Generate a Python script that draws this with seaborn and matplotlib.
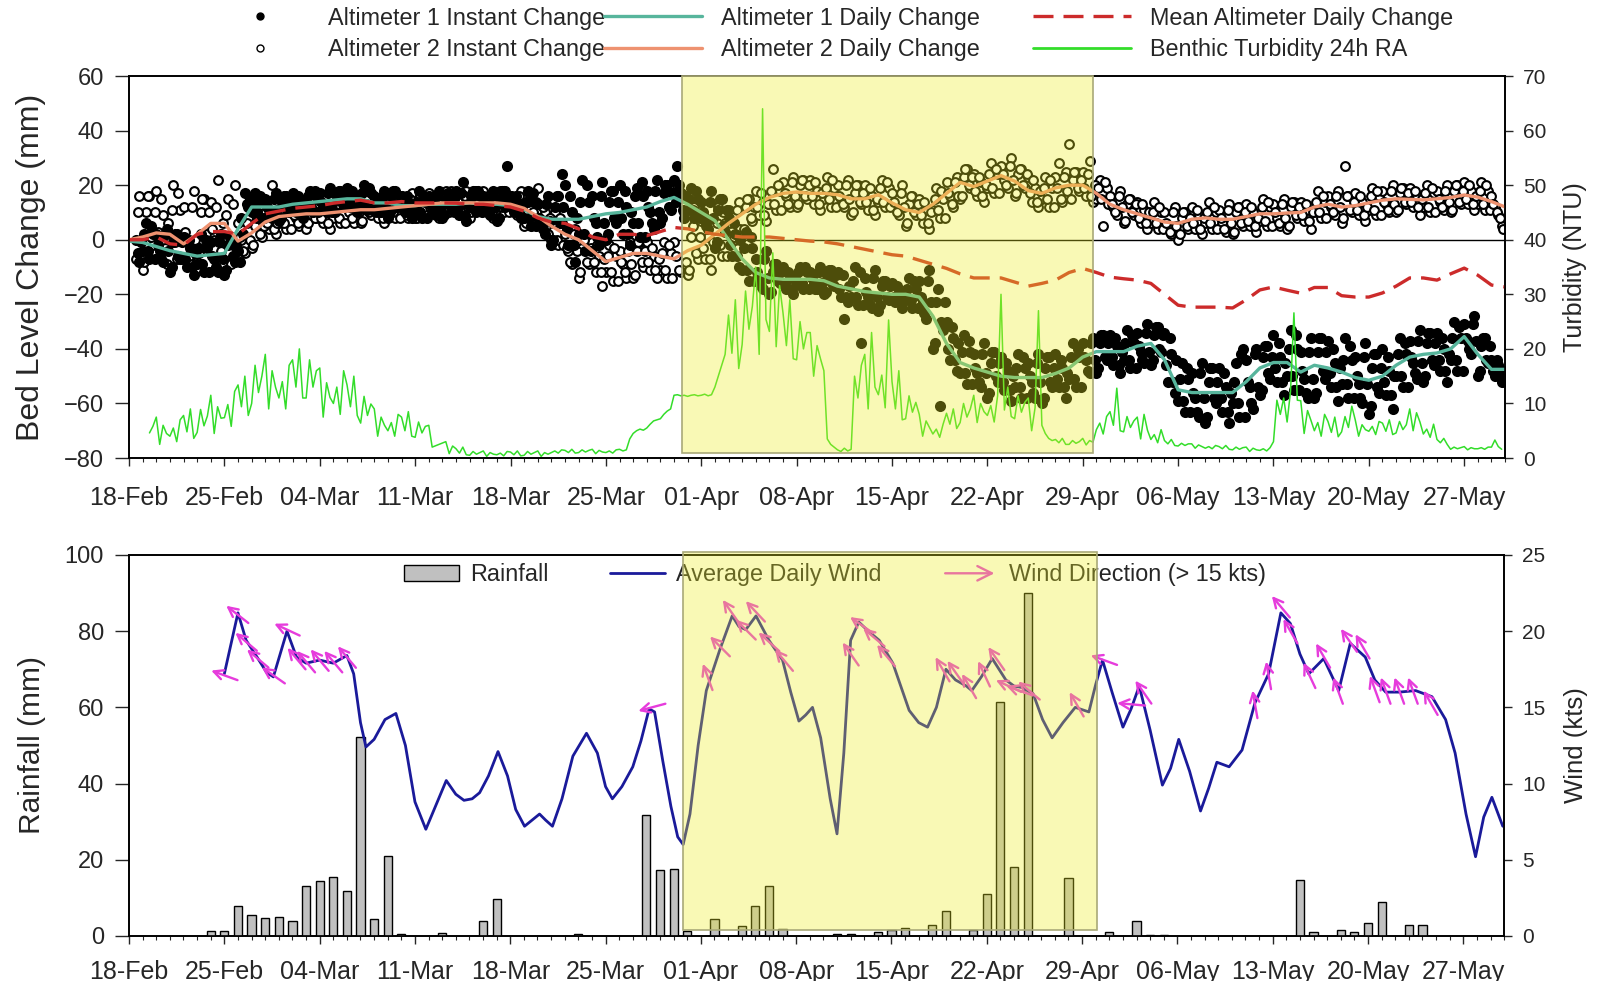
import numpy as np
import matplotlib
matplotlib.use("Agg")
import matplotlib.pyplot as plt
import matplotlib.dates as mdates
import matplotlib.ticker as mticker
import matplotlib.transforms as mtransforms
from matplotlib.patches import Rectangle, FancyArrowPatch, Patch
from matplotlib.lines import Line2D
from matplotlib.legend_handler import HandlerBase
import seaborn as sns
import datetime as dt

nan = np.nan

# ---------------- data (days counted from 18-Feb) ----------------
# daily change lines, one value per day
alt1_daily = [-0.5, -1, -2.5, -4, -5, -6, -5.5, -5, 4, 12,
              12, 12, 13, 13.5, 14, 14.5, 15, 15, 13.5, 13.5,
              12.5, 12.5, 13, 13, 13, 13.5, 13, 13, 12.5, 11,
              8.5, 7.5, 7.5, 7.5, 8.5, 9.5, 10, 11, 12, 14,
              15.5, 13, 10, 7, 0, -7, -12, -14, -14.5, -14.5,
              -14.5, -15, -17, -18, -19, -19.5, -20, -20, -21, -28,
              -38, -45, -47, -48.5, -50, -50.5, -50.5, -50.5, -49, -47,
              -43, -41, -41, -41, -39, -38, -44, -55, -56, -56,
              -56, -56, -52, -47, -45, -45, -48.5, -46, -47, -48.5,
              -50.5, -51.5, -50, -46, -43, -42, -41.5, -40, -35.5, -42,
              -47.5, -47.5]
alt2_daily = [0, 1, 2.5, 2, -1.5, 2, 6, 6, -0.5, 2.5,
              6.5, 8.5, 9, 9.5, 9.5, 10, 10.5, 11, 11, 11.5,
              12, 12.5, 13, 13.5, 13.5, 13.5, 13.5, 13.5, 13, 11.5,
              8.5, 5, 2, 0, -4, -8, -6.5, -5, -5, -6,
              -7, -4, -2, 2, 6, 9.5, 13, 15.5, 17, 17.5,
              17, 17, 16.5, 15, 15, 16.5, 13.5, 11, 10, 13,
              17, 21, 19.5, 21.5, 23.5, 21.5, 18, 17, 19, 20,
              20, 17, 13, 11, 9.5, 8, 6.5, 6, 7.5, 8,
              7.5, 7.5, 8.5, 9.5, 9.5, 9.8, 10, 12, 13, 12,
              12.5, 13.5, 14.5, 15, 14.8, 14.6, 15, 15.5, 16.4, 15.6,
              14, 12]
mean_daily = [0, 0, 1, -1.5, -2, 2, 3, 3, 2, 6,
              9.5, 10.5, 11.5, 12, 12.5, 13.4, 14, 14.5, 13.5, 13.5,
              14, 13.5, 13.5, 13.5, 13.4, 13, 13, 12.5, 12, 10.5,
              8, 6.5, 6, 4, 1, 0, 2, 2, 1.5, 3,
              4.5, 4, 3, 2, 1.5, 1, 1, 1, 0.5, 0,
              -0.5, -0.8, -1.5, -2.5, -3.5, -4.5, -5.5, -6, -7.5, -9,
              -10.5, -12.5, -14, -14, -14, -15.5, -17, -16, -14.8, -12,
              -10.5, -12, -13.7, -14.3, -14.8, -16, -20, -24, -24.7, -24.7,
              -24.7, -25, -22, -18.4, -17.3, -18.5, -19.6, -17.5, -17.5, -20.5,
              -21, -21, -19.5, -17, -14, -14, -14.8, -12.5, -10.4, -13,
              -16.6, -17.3]

# instant readings, every 6 h from 18-Feb 12:00 (a) and from 18-Feb 15:00 (b)
alt1_inst_a = [0, -8,
               -4, 6, -7, 2, 2, -4, -8, 4, -12, -1, 2, -7, 1, -10, -3, -13,
               -9, 2, -12, -3, -1, -7, -12, 2, -13, -2, 1, -8, -4, 8, 17, 12,
               10, 17, 8, 14, 15, 11, 8, 17, 7, 14, 16, 10, 17, 10, 14, 8,
               12, 18, 10, 16, 17, 13, 10, 19, 10, 16, 18, 12, 19, 12, 16, 10,
               13, 20, 11, 17, 16, 12, 10, 18, 8, 16, 18, 12, 16, 10, 14, 8,
               10, 18, 8, 14, 16, 12, 9, 18, 8, 15, 17, 11, 18, 9, 21, 7,
               12, 18, 10, 16, 16, 12, 9, 18, 7, 15, 18, 27, 16, 10, 14, 8,
               8, 18, 5, 14, 13, 7, 2, 16, -2, 12, 16, 24, 20, -2, 10, -8,
               2, 22, -4, 14, 16, 6, -2, 21, 0, 14, 18, 6, 20, 2, 12, -2,
               6, 19, 1, 16, 18, 10, 4, 22, 6, 17, 20, 11, 22, 27, 17, 8,
               11, 19, 8, 15, 14, 8, 4, 18, -3, 11, 15, 3, 8, -6, 2, -10,
               -11, 3, -15, -3, -7, -14, -18, -4, -20, -12, -9, -16, -10, -18, -14, -20,
               -16, -10, -18, -12, -12, -16, -18, -10, -20, -13, -11, -17, -12, -21, -29, -23,
               -21, -10, -24, -38, -14, -21, -25, -11, -26, -17, -15, -22, -16, -23, -19, -25,
               -22, -14, -25, -18, -15, -23, -29, -11, -40, -23, -61, -33, -30, -44, -36, -48,
               -49, -35, -53, -41, -42, -49, -54, -38, -58, -45, -41, -52, -43, -55, -48, -59,
               -54, -42, -58, -47, -45, -52, -58, -42, -60, -47, -43, -54, -42, -54, -47, -58,
               -51, -38, -54, -43, -38, -44, -49, -36, -49, -38, -35, -44, -35, -46, -39, -49,
               -44, -33, -47, -38, -34, -41, -45, -31, -46, -35, -32, -41, -34, -52, -42, -56,
               -59, -45, -63, -51, -49, -58, -65, -45, -67, -52, -47, -60, -47, -63, -54, -67,
               -60, -45, -65, -40, -44, -54, -62, -40, -57, -43, -39, -51, -35, -52, -43, -57,
               -50, -33, -55, -40, -41, -51, -58, -36, -58, -41, -36, -51, -37, -54, -45, -59,
               -53, -36, -58, -44, -43, -53, -60, -38, -64, -47, -42, -56, -40, -57, -48, -62,
               -50, -36, -54, -42, -37, -45, -51, -33, -52, -38, -34, -46, -34, -48, -40, -52,
               -44, -30, -48, -36, -31, -37, -42, -28, -50, -39, -36, -45, -44, -50, -46, -52]
alt1_inst_b = [-5, -1,
               2, -4, 5, -7, -2, -7, 2, -4, -10, 2, -6, -1, -7, 0, -10, -5,
               -3, -9, 0, -12, -6, -10, -1, -7, -11, 1, -6, -2, -8, 2, 13, 15,
               14, 10, 16, 8, 12, 9, 15, 11, 8, 16, 11, 14, 12, 16, 10, 13,
               16, 12, 18, 10, 14, 11, 17, 13, 10, 18, 14, 16, 14, 18, 12, 15,
               17, 13, 19, 11, 14, 10, 16, 12, 10, 18, 12, 16, 12, 16, 10, 12,
               14, 10, 16, 8, 13, 10, 16, 12, 9, 17, 12, 15, 12, 17, 9, 13,
               16, 12, 18, 10, 13, 10, 16, 12, 8, 18, 12, 15, 12, 16, 10, 12,
               14, 8, 17, 5, 8, 4, 13, 7, 0, 16, 6, 12, 4, 16, -2, 8,
               14, 2, 20, -4, 8, 1, 16, 6, 2, 18, 8, 14, 8, 18, 2, 10,
               16, 6, 21, 1, 12, 6, 18, 10, 8, 20, 12, 17, 14, 20, 11, 16,
               15, 11, 18, 8, 10, 6, 14, 8, -1, 15, 5, 11, -2, 6, -6, 0,
               -3, -11, 1, -15, -12, -17, -7, -14, -19, -9, -15, -12, -16, -12, -18, -14,
               -12, -16, -10, -18, -14, -18, -12, -16, -19, -11, -16, -13, -18, -13, -21, -17,
               -15, -21, -12, -24, -19, -24, -14, -21, -24, -15, -21, -17, -21, -17, -23, -20,
               -18, -22, -15, -25, -21, -27, -15, -23, -38, -18, -30, -23, -40, -32, -44, -38,
               -41, -49, -37, -53, -47, -52, -42, -49, -56, -41, -50, -45, -52, -45, -55, -50,
               -47, -54, -43, -58, -50, -56, -45, -52, -58, -43, -52, -47, -51, -44, -54, -49,
               -43, -51, -40, -54, -43, -48, -38, -44, -47, -35, -43, -38, -43, -36, -46, -41,
               -38, -44, -35, -47, -39, -44, -34, -41, -44, -32, -40, -35, -46, -36, -52, -44,
               -51, -59, -47, -63, -56, -63, -49, -58, -65, -47, -58, -52, -58, -49, -63, -56,
               -52, -60, -42, -65, -52, -60, -42, -54, -55, -39, -49, -43, -47, -38, -52, -45,
               -40, -50, -35, -55, -48, -56, -41, -51, -56, -36, -48, -41, -49, -40, -54, -47,
               -44, -53, -39, -58, -50, -58, -43, -53, -61, -42, -54, -47, -52, -43, -57, -50,
               -42, -50, -38, -54, -43, -49, -37, -45, -50, -34, -44, -38, -44, -36, -48, -42,
               -36, -44, -32, -48, -36, -40, -31, -37, -48, -36, -44, -39, -48, -44, -50, -48]
alt2_inst_a = [-7, 16,
               -11, 10, 16, -2, 18, -3, 9, -9, -1, 20, -7, 11, 12, 0, -9, 18,
               -8, 10, 15, 0, 14, 0, 22, -4, 1, 15, -9, 20, 6, 0, -5, 8,
               -3, 5, 8, 1, 10, 4, 20, 2, 6, 14, 4, 10, 12, 8, 5, 14,
               4, 12, 14, 8, 14, 6, 10, 4, 8, 15, 6, 12, 14, 10, 6, 16,
               6, 13, 15, 9, 15, 8, 12, 6, 10, 16, 8, 14, 15, 11, 8, 17,
               8, 14, 16, 10, 17, 10, 14, 8, 12, 18, 10, 16, 16, 12, 10, 18,
               8, 16, 18, 12, 18, 10, 14, 8, 12, 18, 10, 16, 16, 12, 9, 18,
               5, 14, 17, 9, 19, 5, 10, 2, 0, 10, -2, 6, 2, -4, -9, 4,
               -14, -3, 0, -9, -1, -12, -6, -17, -12, -2, -15, -6, -4, -9, -14, -1,
               -14, -4, -1, -10, -1, -11, -6, -14, -11, -1, -14, -5, -1, 20, -12, 10,
               -13, 1, 12, -7, 7, -7, 1, -11, -2, 12, -6, 6, 11, 4, 0, 14,
               2, 12, 15, 7, 18, 9, 14, 7, 13, 26, 11, 18, 21, 16, 12, 23,
               12, 20, 22, 15, 22, 13, 18, 11, 15, 23, 12, 19, 20, 15, 12, 22,
               9, 17, 20, 13, 20, 11, 16, 9, 14, 22, 12, 19, 17, 12, 9, 20,
               5, 13, 16, 9, 15, 6, 11, 4, 11, 19, 8, 15, 21, 16, 12, 23,
               15, 23, 26, 19, 24, 16, 21, 14, 19, 28, 17, 24, 27, 22, 19, 30,
               16, 24, 26, 19, 23, 14, 19, 12, 15, 23, 12, 19, 23, 28, 14, 25,
               35, 22, 25, 18, 25, 16, 29, 14, 15, 22, 5, 19, 16, 12, 9, 18,
               6, 13, 15, 9, 14, 6, 11, 4, 6, 14, 4, 10, 10, 5, 2, 12,
               0, 8, 10, 4, 12, 4, 9, 2, 6, 14, 4, 10, 11, 6, 3, 13,
               2, 10, 12, 5, 13, 5, 10, 3, 7, 15, 5, 12, 13, 8, 5, 15,
               4, 12, 14, 8, 14, 7, 11, 4, 10, 18, 8, 14, 16, 12, 9, 18,
               6, 27, 16, 10, 17, 9, 14, 7, 11, 19, 9, 16, 18, 13, 10, 20,
               10, 17, 19, 13, 19, 12, 16, 9, 12, 20, 10, 17, 18, 14, 11, 20,
               10, 18, 20, 13, 21, 13, 18, 11, 13, 21, 11, 18, 16, 12, 9, 5]
alt2_inst_b = [10, 0,
               -8, 16, 1, 10, 3, 15, -3, 6, 11, -1, 17, -7, 3, -6, 12, 0,
               -5, 15, 2, 10, 4, 12, 0, 6, 9, 1, 13, -3, 1, -4, 6, 0,
               -2, 8, 2, 5, 6, 10, 4, 6, 10, 6, 12, 4, 9, 6, 12, 8,
               6, 14, 8, 12, 8, 12, 6, 10, 12, 8, 14, 6, 10, 8, 14, 10,
               7, 15, 10, 13, 10, 14, 8, 11, 14, 10, 16, 8, 12, 9, 15, 11,
               8, 16, 12, 14, 12, 16, 10, 13, 16, 12, 18, 10, 14, 10, 16, 12,
               10, 18, 12, 16, 12, 16, 10, 14, 16, 12, 18, 10, 13, 10, 16, 12,
               6, 17, 10, 14, 7, 12, 5, 8, 6, 0, 8, -2, -3, -8, 2, -4,
               -12, 0, -8, -3, -8, -2, -12, -7, -6, -12, -3, -15, -8, -12, -4, -9,
               -13, -1, -8, -4, -8, -3, -11, -7, -5, -11, -2, -14, -6, -11, 16, -8,
               -11, 5, -5, 1, -3, 5, -7, -1, 6, -2, 10, -6, 6, 1, 11, 4,
               4, 15, 8, 12, 12, 17, 9, 13, 18, 13, 20, 11, 17, 13, 21, 16,
               13, 22, 16, 20, 16, 21, 13, 17, 19, 15, 22, 12, 16, 13, 20, 15,
               10, 20, 14, 17, 14, 19, 11, 15, 19, 14, 21, 12, 14, 10, 17, 12,
               6, 16, 10, 13, 9, 14, 6, 10, 15, 11, 18, 8, 17, 13, 21, 16,
               16, 26, 20, 23, 18, 23, 16, 20, 24, 19, 26, 17, 24, 20, 27, 22,
               17, 26, 20, 24, 17, 22, 14, 18, 19, 15, 22, 12, 19, 15, 23, 18,
               15, 25, 19, 22, 19, 24, 16, 20, 19, 15, 21, 13, 13, 10, 16, 12,
               7, 15, 10, 13, 8, 13, 6, 10, 10, 6, 12, 4, 6, 3, 10, 5,
               2, 10, 5, 8, 6, 11, 4, 8, 10, 6, 12, 4, 8, 4, 11, 6,
               3, 12, 6, 10, 7, 12, 5, 8, 12, 7, 14, 5, 10, 6, 13, 8,
               5, 14, 9, 12, 9, 13, 7, 10, 14, 10, 16, 8, 13, 10, 16, 12,
               8, 16, 11, 14, 11, 16, 9, 12, 16, 11, 18, 9, 14, 11, 18, 13,
               11, 19, 14, 17, 14, 18, 12, 15, 17, 12, 19, 10, 15, 12, 18, 14,
               11, 20, 14, 18, 15, 20, 13, 16, 18, 13, 20, 11, 13, 10, 8, 4]

# benthic turbidity 24h RA (NTU), every 6 h from 19-Feb 12:00
turbidity = [4.6, 5.8,
             7.5, 2.5, 6, 4.5, 4, 5.5, 3, 7, 7.8, 4.8, 9, 3.6, 4.7, 8.9, 5.9, 7.7,
             11.5, 4.5, 9.4, 7.3, 7.4, 9.8, 5.8, 12.2, 13.4, 9.4, 15, 7.8, 10, 17, 12, 15,
             19, 9, 16, 13, 11, 14, 9, 17, 18, 13, 20, 11, 11, 18, 13, 16,
             16.5, 7.5, 13.8, 11.1, 10, 13, 8, 16, 13.4, 9.4, 15, 7.8, 6.4, 11.3, 7.8, 9.9,
             9, 4, 7.5, 6, 5, 6.5, 4, 8, 7.5, 5, 8.5, 4, 3.8, 6.6, 4.6, 5.8,
             6, 2, nan, nan, nan, 3.0, 0.8, 2.2, 1.7, 0.9, 2.0, 0.6, 0.5, 1.2, 0.7, 1.0,
             1.3, 0.3, 1.0, 0.7, 0.6, 0.9, 0.4, 1.2, 1.1, 0.6, 1.3, 0.4, 0.5, 1.2, 0.7, 1.0,
             1.3, 0.3, 1.0, 0.7, 1.0, 1.3, 0.9, 1.5, 1.4, 1.0, 1.6, 0.9, 1.0, 1.5, 1.1, 1.4,
             1.6, 0.8, 1.4, 1.1, 1.0, 1.3, 0.9, 1.5, 1.6, 1.3, 1.5, 3.5, 4.5, 5.0, 5.3, 5.1,
             5.5, 6.2, 6.8, 7.0, 7.2, 8.0, 8.6, 9.0, 11.5, 11.6, 11.4, 11.5, 11.3, 11.5, 11.6, 11.4,
             11.5, 11.7, 11.4, 11.6, 13, 15, 17, 19, 26.2, 19.2, 29, 16.4, 20.8, 30.6, 23.6, 27.8,
             35, 19, 64, 25.4, 23.2, 37.6, 20.4, 31.6, 26.6, 20.6, 29, 18.2, 18, 25, 20, 23,
             23, 15, 20.6, 18.2, 16, 3.5, 2.5, 2.0, 1.5, 1.2, 1.8, 1.3, 1.6, 15, 11, 17,
             19, 9, 23, 13, 11.6, 15.2, 9.2, 25.3, 14, 9, 16, 7, 7.2, 11.4, 8.4, 10.2,
             8, 4, 6.8, 5.6, 4.4, 5.3, 3.8, 6.2, 8.2, 6.2, 9, 5.4, 6.5, 10, 7.5, 9,
             11.5, 6.5, 10, 8.5, 7.8, 9.6, 6.6, 11.4, 30, 8.8, 13, 7.6, 7.2, 11.4, 8.4, 10.2,
             11, 5, 9.2, 27, 6, 4.5, 3.6, 3.2, 3.4, 2.8, 3.6, 2.5, 2.5, 3.2, 2.7, 3.0,
             3.6, 2.4, 3.2, 2.9, 5.2, 6.4, 4.4, 7.6, 8.5, 6, 12.8, 5, 4.8, 7.6, 5.6, 6.8,
             7.5, 3.5, 8, 5.1, 3.4, 4.3, 2.8, 5.2, 3.2, 2.6, 3.4, 2.3, 2.2, 2.7, 2.3, 2.6,
             2.6, 1.8, 2.4, 2.1, 1.8, 2.1, 1.7, 2.3, 2.1, 1.7, 2.3, 1.6, 1.5, 2.0, 1.6, 1.9,
             2.0, 1.2, 1.8, 1.5, 1.4, 1.7, 1.3, 1.9, 3, 10.6, 8, 11, 6.6, 12.2, 26.6, 10.6,
             10.5, 4.5, 8.7, 6.9, 5, 6.5, 4, 8, 6.7, 4.7, 7.5, 3.9, 4.8, 7.6, 5.6, 9.5,
             7, 4, 6.1, 5.2, 4.9, 5.8, 4.3, 6.7, 6.4, 4.9, 7, 4.3, 4.6, 6.7, 5.2, 6.1,
             9, 5, 8.3, 6.6, 4.4, 5.3, 3.8, 6.2, 3.4, 2.8, 3.6, 2.5, 1.6, 2.0, 1.7, 1.9,
             2.1, 1.5, 1.9, 1.7, 1.7, 1.9, 1.6, 2.0, 2.0, 3.3, 2.1, 1.6]

# daily rainfall
rain_day = [6, 7, 8, 9, 10, 11, 12, 13, 14, 15, 16, 17, 18, 19, 20, 23, 26, 27, 33,
            38, 39, 40, 41, 43, 45, 46, 47, 48, 52, 53, 55, 56, 57, 59, 60, 62, 63,
            64, 65, 66, 69, 72, 74, 75, 76, 86, 87, 89, 90, 91, 92, 94, 95]
rain_mm = [1.4, 1.4, 7.9, 5.5, 4.8, 5.0, 3.9, 13.1, 14.4, 15.6, 11.9, 52.1, 4.4, 21.1, 0.4, 0.8, 3.9, 9.7, 0.5,
           31.7, 17.3, 17.7, 1.4, 4.4, 2.6, 7.9, 13.1, 1.7, 0.4, 0.5, 1.0, 1.6, 2.0, 2.9, 6.6, 1.6, 10.9,
           61.3, 18.0, 89.9, 15.1, 1.1, 3.9, 0.3, 0.3, 14.7, 1.1, 1.6, 1.1, 3.5, 8.8, 2.8, 2.8]

# average daily wind
wind_day = [7.0, 8.0, 8.6, 9.4, 10.1, 10.6, 11.6, 12.3, 13.0, 14.0,
            15.0, 16.0, 16.5, 17.0, 17.4, 18.0, 18.8, 19.6, 20.3, 21.0,
            21.8, 22.5, 23.3, 24.0, 24.6, 25.2, 25.75, 26.4, 27.1, 27.8,
            28.4, 29.05, 29.6, 30.15, 30.6, 31.1, 31.8, 32.6, 33.6, 34.4,
            35.0, 35.5, 36.2, 37.0, 37.6, 38.2, 38.6, 39.2, 39.8, 40.3,
            40.7, 41.2, 41.8, 42.4, 43.4, 44.3, 44.8, 45.3, 46.05, 47.0,
            48.0, 48.6, 49.2, 49.7, 50.2, 50.8, 51.5, 52.0, 52.5, 53.0,
            53.6, 54.3, 55.1, 56.1, 57.3, 58.0, 58.65, 59.3, 60.0, 60.7,
            61.5, 61.9, 62.6, 63.4, 64.4, 65.0, 65.6, 66.4, 67.1, 67.8,
            68.6, 69.5, 70.5, 71.0, 71.5, 72.2, 73.0, 73.6, 74.2, 75.0,
            75.9, 76.5, 77.1, 77.9, 78.7, 79.3, 79.9, 80.8, 81.75, 82.7,
            83.7, 84.6, 85.3, 86.0, 86.65, 87.75, 88.85, 89.7, 90.8, 91.5,
            92.3, 93.3, 94.5, 95.7, 96.7, 97.4, 98.2, 98.9, 99.5, 100.1, 100.9]
wind_kts = [17.2, 21.2, 19.4, 18.3, 17.3, 17.0, 20.0, 18.3, 17.9, 18.1,
            17.9, 18.4, 17.2, 14.0, 12.4, 12.9, 14.2, 14.6, 12.5, 8.8,
            7.0, 8.5, 10.2, 9.3, 8.9, 9.0, 9.4, 10.5, 12.1, 10.5,
            8.3, 7.2, 7.6, 8.0, 7.6, 7.2, 9.0, 11.8, 13.3, 12.0,
            9.8, 9.0, 9.8, 11.1, 12.8, 14.9, 14.7, 11.5, 8.5, 6.5,
            6.0, 8.0, 12.5, 16.1, 18.8, 21.0, 20.3, 20.1, 21.0, 19.4,
            18.1, 16.0, 14.1, 14.5, 15.0, 13.0, 9.0, 6.7, 12.0, 19.4,
            20.6, 20.0, 19.4, 17.9, 14.8, 14.0, 13.7, 15.0, 17.5, 16.8,
            16.4, 16.1, 17.0, 18.2, 16.8, 16.4, 16.3, 15.9, 14.2, 13.0,
            14.0, 15.0, 14.7, 16.5, 18.1, 16.0, 13.7, 14.9, 16.4, 13.5,
            9.9, 11.0, 12.9, 10.8, 8.2, 9.7, 11.4, 11.1, 12.2, 15.3,
            17.2, 21.2, 20.5, 18.5, 17.2, 18.2, 16.1, 19.2, 18.3, 16.8,
            16.0, 16.0, 16.1, 15.7, 14.2, 12.0, 8.0, 5.2, 7.8, 9.1, 7.2]

# wind direction arrows (> 15 kts); direction in degrees the arrow points to
arrow_day = [7.0, 7.95, 8.6, 9.45, 10.6, 11.6, 12.3, 13.0, 14.0, 15.0, 16.0,
             38.4, 42.5, 43.4, 44.2, 45.3, 46.0, 47.0, 48.1,
             53.0, 53.8, 54.7, 55.6, 59.75, 60.7, 61.7, 62.8, 63.7, 64.6, 65.4, 66.1,
             69.6, 71.6, 73.6, 74.5,
             82.7, 83.7, 84.6, 85.3, 86.7, 87.7, 88.8, 89.6, 90.6, 91.5, 92.3, 93.3, 94.3, 95.6]
arrow_kts = [17.1, 21.1, 19.3, 18.2, 17.1, 20.1, 18.2, 18.0, 18.1, 18.0, 18.3,
             15.0, 17.0, 19.0, 21.3, 20.1, 21.3, 19.3, 18.1,
             18.5, 20.4, 19.6, 18.4, 17.5, 17.3, 16.4, 17.2, 18.2, 16.4, 16.1, 16.1,
             15.2, 18.1, 15.2, 16.0,
             15.2, 17.1, 21.6, 20.0, 17.1, 18.4, 16.1, 19.4, 19.0, 16.2, 16.1, 16.1, 16.1, 15.3]
arrow_dir = [160, 142, 140, 140, 145, 155, 130, 130, 130, 130, 130,
             195, 110, 135, 125, 135, 133, 138, 130,
             125, 145, 140, 130, 120, 125, 120, 115, 125, 155, 160, 140,
             120, 160, 175, 125,
             100, 100, 130, 120, 115, 120, 110, 125, 120, 110, 110, 110, 110, 120]

tick_labels = ["18-Feb", "25-Feb", "04-Mar", "11-Mar", "18-Mar", "25-Mar", "01-Apr", "08-Apr",
               "15-Apr", "22-Apr", "29-Apr", "06-May", "13-May", "20-May", "27-May"]

# shaded period (days after 18-Feb)
shade_top = (40.57, 70.73)
shade_bot = (40.7, 71.1)

TEAL = "#57b59c"
SALMON = "#ee9270"
RED = "#cc2b2b"
GREEN = "#33dd2a"
NAVY = "#1a1a9a"
MAGENTA = "#e63cdc"
YELLOW = (0.93, 0.93, 0.13, 0.33)
YEDGE = "#a9a978"

base = mdates.date2num(dt.datetime(2015, 2, 18))


def six_hourly(values, start):
    return base + start + 0.25 * np.arange(len(values))


daily_x = base + np.arange(len(alt1_daily))
alt1_x = np.concatenate([six_hourly(alt1_inst_a, 0.5), six_hourly(alt1_inst_b, 0.625)])
alt1_y = alt1_inst_a + alt1_inst_b
alt2_x = np.concatenate([six_hourly(alt2_inst_a, 0.5), six_hourly(alt2_inst_b, 0.625)])
alt2_y = alt2_inst_a + alt2_inst_b
turb_x = six_hourly(turbidity, 1.5)

sns.set_style("ticks")
plt.rcParams["font.family"] = ["Liberation Sans", "DejaVu Sans"]
plt.rcParams["axes.linewidth"] = 1.2

fig = plt.figure(figsize=(16.01, 9.81), dpi=100)
ax = fig.add_axes([0.0806, 0.5331, 0.8595, 0.3894])
axr = ax.twinx()
ax2 = fig.add_axes([0.0806, 0.0459, 0.8589, 0.3884])
ax2r = ax2.twinx()

# ---- top panel ----
ax.axhline(0, color="black", lw=1, zorder=1)
sns.scatterplot(x=alt2_x, y=alt2_y, ax=ax, color="white", edgecolor="black",
                s=40, linewidth=1.5, zorder=2)
sns.scatterplot(x=alt1_x, y=alt1_y, ax=ax, color="black", s=64, linewidth=0, zorder=3)
sns.lineplot(x=daily_x, y=alt1_daily, ax=ax, color=TEAL, lw=2.4, estimator=None, zorder=5)
sns.lineplot(x=daily_x, y=alt2_daily, ax=ax, color=SALMON, lw=2.4, estimator=None, zorder=5)
sns.lineplot(x=daily_x, y=mean_daily, ax=ax, color=RED, lw=2.4, estimator=None,
             ls=(0, (6, 3)), zorder=6)
sns.lineplot(x=turb_x, y=turbidity, ax=axr, color=GREEN, lw=1.1, estimator=None)

axr.add_patch(Rectangle((base + shade_top[0], 0.9), shade_top[1] - shade_top[0], 69.1,
                        facecolor=YELLOW, edgecolor=YEDGE, lw=1.2, zorder=10, clip_on=False))

ax.set_ylim(-80, 60)
ax.set_yticks(np.arange(-80, 61, 20))
axr.set_ylim(0, 70)
axr.set_yticks(np.arange(0, 71, 10))
ax.set_ylabel("Bed Level Change (mm)", fontsize=23)
axr.set_ylabel("Turbidity (NTU)", fontsize=18)
ax.yaxis.set_label_coords(-0.0603, 0.5)
axr.yaxis.set_label_coords(1.042, 0.5)

# ---- bottom panel ----
ax2.bar(base + np.array(rain_day), rain_mm, width=0.6, color="#c0c0c0",
        edgecolor="black", lw=1, zorder=3)
sns.lineplot(x=base + np.array(wind_day), y=wind_kts, ax=ax2r, color=NAVY, lw=2,
             estimator=None, sort=False)

L = 28
for d, k, ang in zip(arrow_day, arrow_kts, arrow_dir):
    hx = 0.5 * L * np.cos(np.radians(ang))
    hy = 0.5 * L * np.sin(np.radians(ang))
    tr = mtransforms.offset_copy(ax2r.transData, x=hx, y=hy, units="dots")
    ax2r.annotate("", xy=(base + d, k), xycoords=tr, xytext=(-2 * hx, -2 * hy),
                  textcoords="offset pixels",
                  arrowprops=dict(arrowstyle="->", color=MAGENTA, lw=1.7,
                                  mutation_scale=17, shrinkA=0, shrinkB=0))

ax2r.add_patch(Rectangle((base + shade_bot[0], 0.4), shade_bot[1] - shade_bot[0], 24.8,
                         facecolor=YELLOW, edgecolor=YEDGE, lw=1.2, zorder=10, clip_on=False))

ax2.set_ylim(0, 100)
ax2.set_yticks(np.arange(0, 101, 20))
ax2r.set_ylim(0, 25)
ax2r.set_yticks(np.arange(0, 26, 5))
ax2.set_ylabel("Rainfall (mm)", fontsize=21.5)
ax2r.set_ylabel("Wind (kts)", fontsize=18.5)
ax2.yaxis.set_label_coords(-0.0603, 0.5)
ax2r.yaxis.set_label_coords(1.0436, 0.5)


class ArrowHandler(HandlerBase):
    def create_artists(self, legend, orig_handle, xdescent, ydescent, width, height, fontsize, trans):
        y = height / 2 - ydescent
        arr = FancyArrowPatch((-xdescent, y), (width - xdescent, y), arrowstyle="->",
                              mutation_scale=26, color=MAGENTA, lw=1.7, transform=trans)
        return [arr]


arrow_proxy = Line2D([], [], color=MAGENTA)
leg2 = ax2r.legend([Patch(facecolor="#c0c0c0", edgecolor="black"), Line2D([], [], color=NAVY, lw=2),
                    arrow_proxy],
                   ["Rainfall", "Average Daily Wind", "Wind Direction (> 15 kts)"],
                   handler_map={arrow_proxy: ArrowHandler()}, ncol=3, loc="center left",
                   bbox_to_anchor=(0.2, 0.9475), frameon=False, fontsize=16.8, handlelength=2.35,
                   handletextpad=0.5, columnspacing=2.6, borderpad=0, borderaxespad=0)
leg2.set_zorder(5)

# ---- shared axis formatting ----
for a, ar, pad in ((ax, axr, 14), (ax2, ax2r, 11)):
    a.set_xlim(base, base + 101)
    a.set_xticks(base + 7 * np.arange(len(tick_labels)), tick_labels)
    a.xaxis.set_minor_locator(mticker.MultipleLocator(1))
    a.tick_params(axis="x", which="major", direction="out", length=6, width=1, labelsize=18, pad=pad)
    a.tick_params(axis="x", which="minor", direction="out", length=3, width=0.8)
    a.tick_params(axis="y", direction="out", length=10, width=1, labelsize=17, pad=8)
    ar.tick_params(axis="y", direction="out", length=6, width=1, labelsize=15, pad=7)
    a.set_xlabel("")
    ar.set_xlabel("")
    for sp in list(a.spines.values()) + list(ar.spines.values()):
        sp.set_color("black")
        sp.set_linewidth(1.2)

# ---- top legend: three columns ----
cols = [
    ([Line2D([], [], ls="", marker="o", color="black", markersize=5),
      Line2D([], [], ls="", marker="o", mfc="white", mec="black", mew=1, markersize=5)],
     ["Altimeter 1 Instant Change", "Altimeter 2 Instant Change"], 0.1318),
    ([Line2D([], [], color=TEAL, lw=2.4), Line2D([], [], color=SALMON, lw=2.4)],
     ["Altimeter 1 Daily Change", "Altimeter 2 Daily Change"], 0.3773),
    ([Line2D([], [], color=RED, lw=2.4, ls=(0, (6, 3))), Line2D([], [], color=GREEN, lw=2)],
     ["Mean Altimeter Daily Change", "Benthic Turbidity 24h RA"], 0.6452),
]
for handles, labels, xpos in cols:
    fig.legend(handles, labels, loc="center left", bbox_to_anchor=(xpos, 0.9655), frameon=False,
               fontsize=16.8, handlelength=4.2, handletextpad=0.8, labelspacing=0.36,
               borderpad=0, borderaxespad=0)

fig.savefig("out.png", dpi=100)
